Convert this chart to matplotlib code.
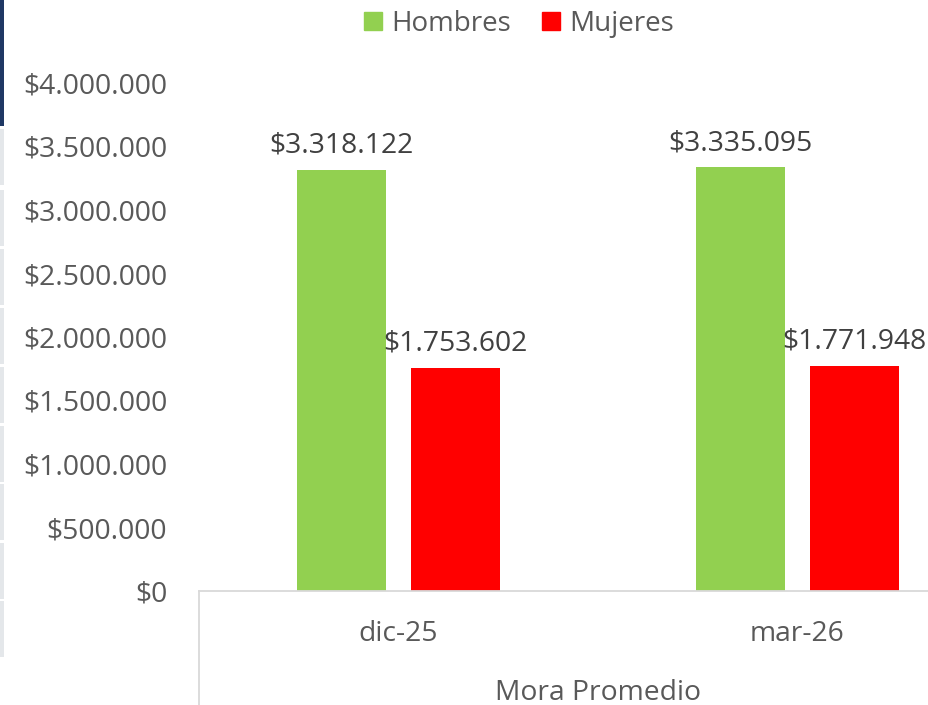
import matplotlib
matplotlib.use("Agg")
import matplotlib.pyplot as plt
from matplotlib.lines import Line2D
from matplotlib.patches import Rectangle
import numpy as np

categories = ["dic-25", "mar-26"]
series_names = ["Hombres", "Mujeres"]
hombres = [3318122, 3335095]
mujeres = [1753602, 1771948]
yticks = [0, 500000, 1000000, 1500000, 2000000, 2500000, 3000000, 3500000, 4000000]
axis_title = "Mora Promedio"

GREEN = "#92D050"
RED = "#FF0000"
TICK_C = "#595959"
LABEL_C = "#404040"
FONT = ["Open Sans", "DejaVu Sans"]
plt.rcParams["font.family"] = FONT
FS = 20.3

W, H = 929, 705
fig = plt.figure(figsize=(W / 100, H / 100), dpi=100)

def fmt(v):
    return "$" + f"{int(v):,}".replace(",", ".")

# axes placement (pixels): left 199, right 997 (beyond figure), y0 at 591, 4M at 83
ax = fig.add_axes([199 / W, (H - 591) / H, (997 - 199) / W, (591 - 83) / H])
ax.set_ylim(0, 4000000)
ax.set_xlim(-0.5, 1.5)

x = np.arange(len(categories))
bw = 0.223
off = 0.142
b1 = ax.bar(x - off, hombres, bw, color=GREEN, zorder=2)
b2 = ax.bar(x + off, mujeres, bw, color=RED, zorder=2)

for bars, vals in ((b1, hombres), (b2, mujeres)):
    for r, v in zip(bars, vals):
        ax.annotate(fmt(v), (r.get_x() + r.get_width() / 2, v), xytext=(0, 12.5),
                    textcoords="offset points", ha="center", va="baseline",
                    fontsize=FS, color=LABEL_C, annotation_clip=False)

ax.set_yticks(yticks)
ax.set_yticklabels([fmt(v) for v in yticks], fontsize=FS, color=TICK_C)
ax.tick_params(axis="y", length=0, pad=23)
ax.set_xticks(x)
ax.set_xticklabels(categories, fontsize=FS, color=TICK_C)
ax.tick_params(axis="x", length=0, pad=21)

for s in ("top", "right", "left"):
    ax.spines[s].set_visible(False)
ax.spines["bottom"].set_color("#D9D9D9")
ax.spines["bottom"].set_linewidth(1.3)

# multi-level category axis left border line
fig.add_artist(Line2D([199 / W, 199 / W], [0, (H - 591) / H], color="#D9D9D9", lw=1.3))

ax.text(0.5, -(693 - 591) / (591 - 83), axis_title, transform=ax.transAxes,
        ha="center", va="center", fontsize=FS, color=TICK_C, clip_on=False)

# legend
handles = [Line2D([], [], marker="s", ls="", color=GREEN, markersize=12.5),
           Line2D([], [], marker="s", ls="", color=RED, markersize=12.5)]
fig.legend(handles, series_names, loc="center", bbox_to_anchor=(519 / W, 1 - 24 / H),
           ncol=2, frameon=False, fontsize=20, labelcolor=TICK_C,
           handlelength=0.7, handletextpad=0.3, columnspacing=1.1)

# left edge decoration (cropped slide background)
fig.add_artist(Rectangle((0, 1 - 126 / H), 4 / W, 126 / H, transform=fig.transFigure,
                         color="#1F3864", lw=0))
seg_starts = [129, 190, 249, 308, 367, 426, 484, 543, 601]
for s0 in seg_starts:
    fig.add_artist(Rectangle((0, 1 - (s0 + 56) / H), 4 / W, 56 / H, transform=fig.transFigure,
                             color="#E4E7EA", lw=0))

fig.savefig("out.png", dpi=100)
